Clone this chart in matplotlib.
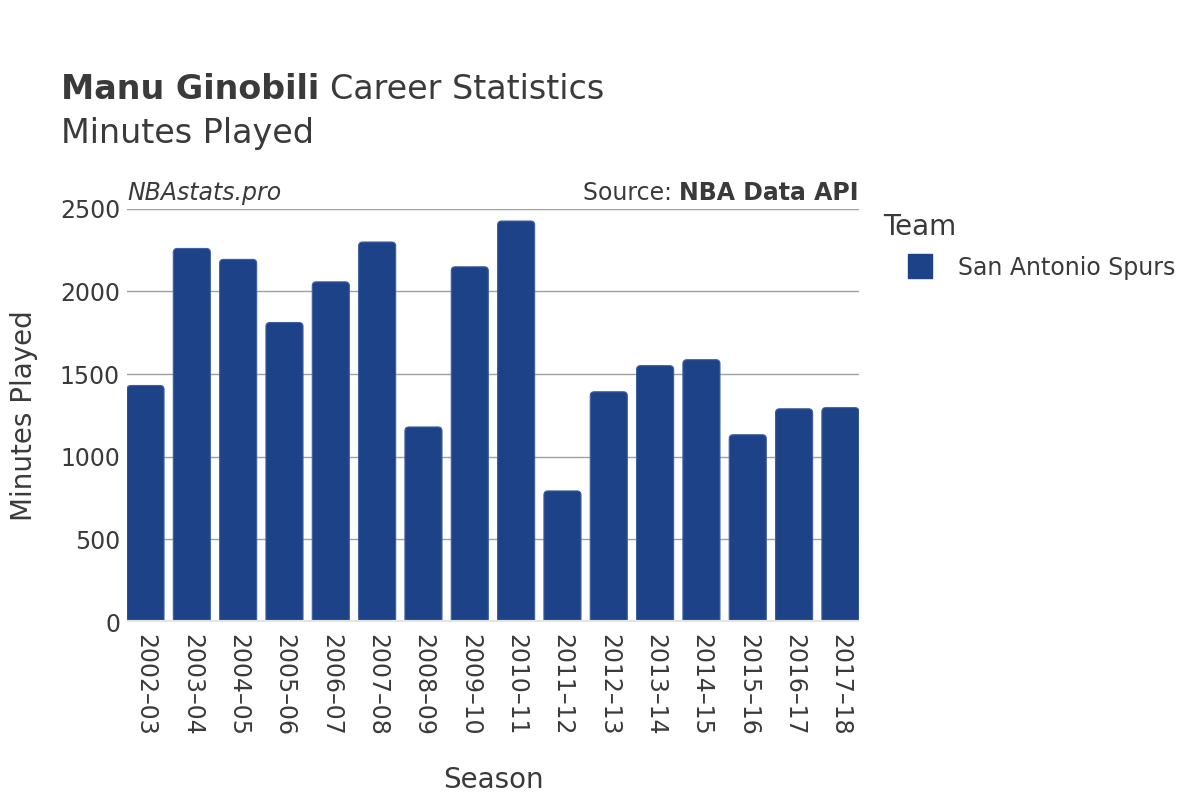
import matplotlib
matplotlib.use("Agg")
import matplotlib.pyplot as plt
from matplotlib.patches import FancyBboxPatch
from matplotlib.lines import Line2D

# Data
seasons = ["2002–03", "2003–04", "2004–05", "2005–06", "2006–07", "2007–08",
           "2008–09", "2009–10", "2010–11", "2011–12", "2012–13", "2013–14",
           "2014–15", "2015–16", "2016–17", "2017–18"]
minutes = [1431, 2260, 2194, 1812, 2058, 2299, 1180, 2149, 2426, 793,
           1393, 1551, 1587, 1133, 1290, 1297]
team = "San Antonio Spurs"

BAR_COLOR = "#1d4287"
EDGE_COLOR = "#3c5f9e"
TEXT_COLOR = "#3a3a3a"
BAR_W = 0.8

plt.rcParams['font.family'] = ['DejaVu Sans']

fig = plt.figure(figsize=(12, 8), dpi=100)
ax = fig.add_axes([0.1058, 0.2225, 0.61, 0.5165])

x = list(range(len(seasons)))
ax.set_xlim(-BAR_W / 2, len(seasons) - 1 + BAR_W / 2)
ax.set_ylim(0, 2500)

# bars via ax.bar, then swapped for rounded-top patches
bars = ax.bar(x, minutes, width=BAR_W, color=BAR_COLOR, zorder=3)
fig.canvas.draw()
px_x = (ax.get_xlim()[1] - ax.get_xlim()[0]) / ax.bbox.width
px_y = (ax.get_ylim()[1] - ax.get_ylim()[0]) / ax.bbox.height
rad = 4 * px_x
for r in bars:
    r.set_visible(False)
    p = FancyBboxPatch((r.get_x(), -40), r.get_width(), r.get_height() + 40,
                       boxstyle=f"round,pad=0,rounding_size={rad}",
                       mutation_aspect=px_y / px_x,
                       facecolor=BAR_COLOR, edgecolor=EDGE_COLOR, linewidth=0.8,
                       zorder=3)
    ax.add_patch(p)

ax.set_yticks([0, 500, 1000, 1500, 2000, 2500])
ax.yaxis.grid(True, color="#a0a0a0", linewidth=1, zorder=0)
ax.axhline(0, color="#e4e4e4", linewidth=3, zorder=4)
for s in ax.spines.values():
    s.set_visible(False)
ax.tick_params(axis="both", length=0, labelsize=17, colors=TEXT_COLOR)
ax.tick_params(axis="y", pad=5)
ax.set_xticks(x)
ax.set_xticklabels(seasons, rotation=270, va="top", ha="center")
ax.tick_params(axis="x", pad=9)

ax.set_xlabel("Season", fontsize=20, color=TEXT_COLOR, labelpad=21)
ax.set_ylabel("Minutes Played", fontsize=20, color=TEXT_COLOR, labelpad=16)

title_bold = fig.text(0.051, 0.876, "Manu Ginobili", fontsize=24, fontweight="bold",
                      color=TEXT_COLOR, va="baseline")
fig.canvas.draw()
tb = title_bold.get_window_extent()
fig.text(tb.x1 / fig.bbox.width + 0.009, 0.876, "Career Statistics", fontsize=24,
         color=TEXT_COLOR, va="baseline")
fig.text(0.051, 0.821, "Minutes Played", fontsize=24, color=TEXT_COLOR,
         va="baseline")

ax.text(0.0, 1.009, "NBAstats.pro", transform=ax.transAxes, fontsize=17,
        style="italic", color=TEXT_COLOR, ha="left", va="bottom")
src_lbl = ax.text(1.0, 1.009, "Source: ", transform=ax.transAxes, fontsize=17,
                  color=TEXT_COLOR, ha="right", va="bottom")
src = ax.text(1.0, 1.009, "NBA Data API", transform=ax.transAxes, fontsize=17,
              fontweight="bold", color=TEXT_COLOR, ha="right", va="bottom")
fig.canvas.draw()
bb = src.get_window_extent()
src_lbl.set_x(ax.transAxes.inverted().transform((bb.x0, bb.y0))[0])

# legend: title as separate text so it sits left of the marker
fig.text(883 / 1200, 1 - 227 / 800, "Team", fontsize=20, color=TEXT_COLOR,
         ha="left", va="center")
handle = Line2D([], [], marker="s", linestyle="none", markersize=17,
                markerfacecolor=BAR_COLOR, markeredgecolor=BAR_COLOR)
leg = fig.legend([handle], [team], loc="upper left",
                 bbox_to_anchor=(0.729, 0.707), frameon=False,
                 fontsize=17, handletextpad=0.62, labelcolor=TEXT_COLOR)

fig.savefig("out.png", dpi=100)
